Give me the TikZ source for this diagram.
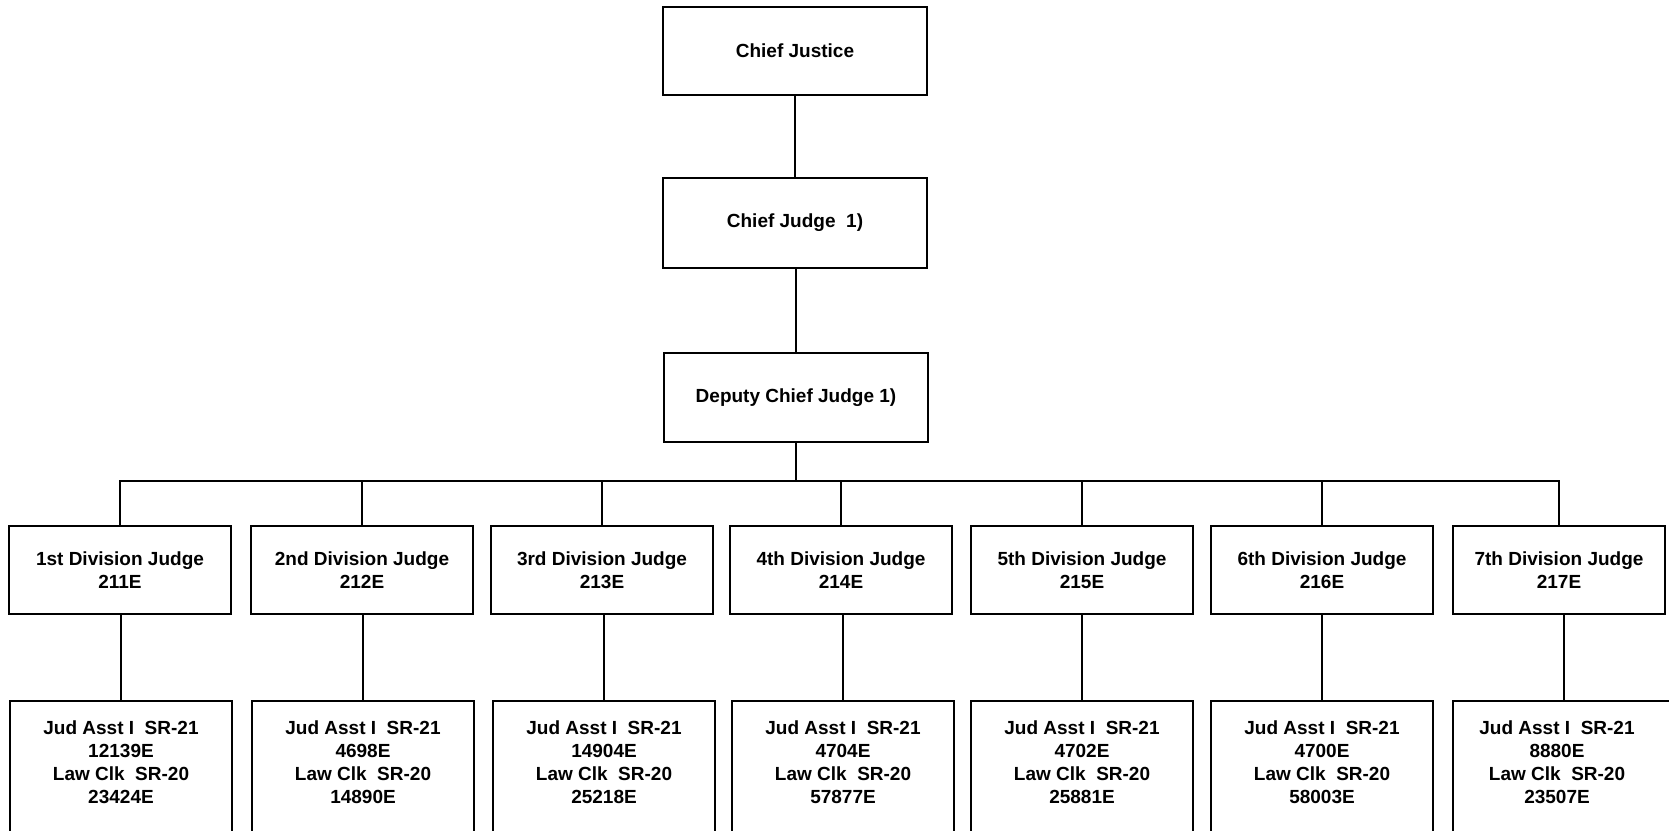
\documentclass[tikz,border=0pt]{standalone}
\usepackage{fontspec}
\setmainfont{Liberation Sans}
\begin{document}
\begin{tikzpicture}[x=1pt,y=-1pt,
  txt/.style={font=\bfseries\fontsize{19}{23}\selectfont},
  box/.style={txt, draw, line width=2.4pt, minimum width=222pt, minimum height=88pt, inner sep=0pt, align=center},
  topbox/.style={box, minimum width=264pt},
  lowbox/.style={draw, line width=2.4pt, minimum width=222pt, minimum height=170pt, inner sep=0pt},
  lowtext/.style={txt, align=center, inner sep=0pt},
  conn/.style={line width=2pt}]
\useasboundingbox (0,0) rectangle (1669,830);
\fill[white] (0,0) rectangle (1669,830);
\clip (0,0) rectangle (1669,830);

% top chain
\node[topbox] (cj) at (795,51) {Chief Justice};
\node[topbox, minimum height=90pt] (cjd) at (795,223) {Chief Judge\ \ 1)};
\node[topbox, minimum height=89pt] (dcj) at (796,397.5) {Deputy Chief Judge 1)};
\draw[conn] (cj.south) -- (cjd.north);
\draw[conn] (cjd.south) -- (dcj.south |- cjd.south) -- (dcj.north);
\coordinate (bus) at (796,481);

% division judges
\node[box] (d1) at (120,570) {1st Division Judge\\211E};
\node[box] (d2) at (362,570) {2nd Division Judge\\212E};
\node[box] (d3) at (602,570) {3rd Division Judge\\213E};
\node[box] (d4) at (841,570) {4th Division Judge\\214E};
\node[box] (d5) at (1082,570) {5th Division Judge\\215E};
\node[box] (d6) at (1322,570) {6th Division Judge\\216E};
\node[box, minimum width=212pt] (d7) at (1559,570) {7th Division Judge\\217E};

\draw[conn] (dcj.south) -- (dcj.south |- bus);
\draw[conn] (d1.north) -- (d1.north |- bus) -- (d7.north |- bus) -- (d7.north);
\foreach \n in {d2,d3,d4,d5,d6}
  \draw[conn] (\n.north) -- (\n.north |- bus);

% assistant boxes
\node[lowbox] (b1) at (121,786) {};
\node[lowbox] (b2) at (363,786) {};
\node[lowbox] (b3) at (604,786) {};
\node[lowbox] (b4) at (843,786) {};
\node[lowbox] (b5) at (1082,786) {};
\node[lowbox] (b6) at (1322,786) {};
\node[lowbox] (b7) at (1564,786) {};

\node[lowtext] (t1) at (121,762) {Jud Asst I\ \ SR-21\\12139E\\Law Clk\ \ SR-20\\23424E};
\node[lowtext] (t2) at (363,762) {Jud Asst I\ \ SR-21\\4698E\\Law Clk\ \ SR-20\\14890E};
\node[lowtext] (t3) at (604,762) {Jud Asst I\ \ SR-21\\14904E\\Law Clk\ \ SR-20\\25218E};
\node[lowtext] (t4) at (843,762) {Jud Asst I\ \ SR-21\\4704E\\Law Clk\ \ SR-20\\57877E};
\node[lowtext] (t5) at (1082,762) {Jud Asst I\ \ SR-21\\4702E\\Law Clk\ \ SR-20\\25881E};
\node[lowtext] (t6) at (1322,762) {Jud Asst I\ \ SR-21\\4700E\\Law Clk\ \ SR-20\\58003E};
\node[lowtext] (t7) at (1557,762) {Jud Asst I\ \ SR-21\\8880E\\Law Clk\ \ SR-20\\23507E};

\draw[conn] (b1.north) -- (b1.north |- d1.south);
\draw[conn] (b2.north) -- (b2.north |- d2.south);
\draw[conn] (b3.north) -- (b3.north |- d3.south);
\draw[conn] (b4.north) -- (b4.north |- d4.south);
\draw[conn] (b5.north) -- (b5.north |- d5.south);
\draw[conn] (b6.north) -- (b6.north |- d6.south);
\draw[conn] (b7.north) -- (b7.north |- d7.south);
\end{tikzpicture}
\end{document}
